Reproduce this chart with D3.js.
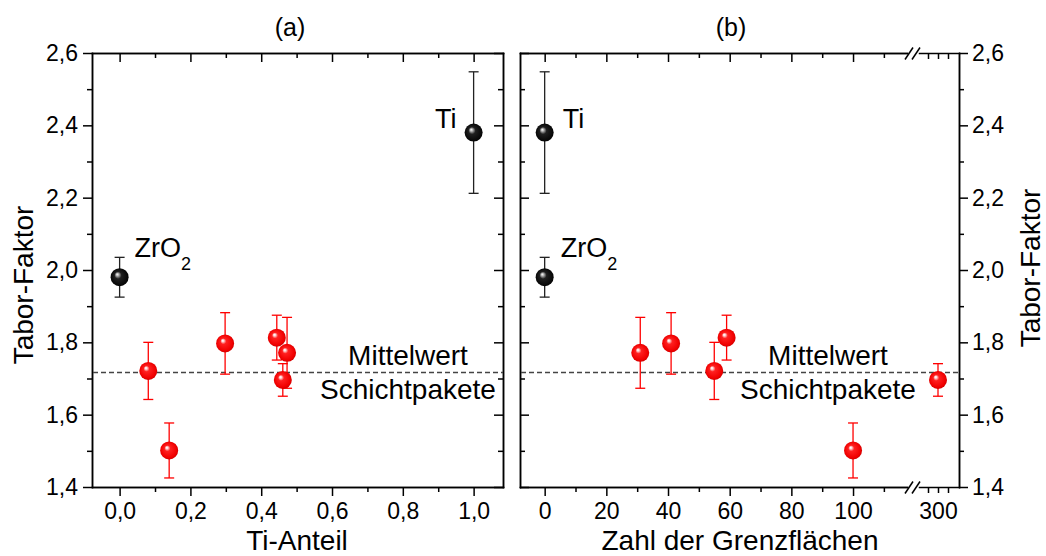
<!DOCTYPE html>
<html>
<head>
<meta charset="utf-8">
<script src="https://cdn.jsdelivr.net/npm/d3@7"></script>
<style>
  body { margin: 0; background: #fff; }
  svg text { font-family: "Liberation Sans", Arial, Helvetica, sans-serif; fill: #000; }
</style>
</head>
<body>
<svg id="chart" width="1046" height="556"></svg>
<script>
// reference films (black spheres)
var refNames = ['ZrO2', 'Ti']
var refTiFraction = [0.0, 1.0]
var refInterfaces = [0, 0]
var refTabor = [1.98, 2.38]
var refError = [0.055, 0.168]

// multilayer stacks (red spheres)
var layerTiFraction = [0.081, 0.140, 0.298, 0.444, 0.473, 0.461]
var layerInterfaces = [55, 100, 41, 59, 31, 300]
var layerTabor = [1.721, 1.501, 1.797, 1.813, 1.771, 1.696]
var layerError = [0.079, 0.076, 0.085, 0.062, 0.098, 0.045]

// ticks
var yTicks = [1.4, 1.6, 1.8, 2.0, 2.2, 2.4, 2.6]
var yMinor = [1.5, 1.7, 1.9, 2.1, 2.3, 2.5]
var xTicksA = [0.0, 0.2, 0.4, 0.6, 0.8, 1.0]
var xMinorA = [0.1, 0.3, 0.5, 0.7, 0.9]
var xTicksB = [0, 20, 40, 60, 80, 100]
var xMinorB = [10, 30, 50, 70, 90, 110]
var xTicksBreak = [290, 300, 310]
var xLabelsBreak = [300]

var svg = d3.select('#chart')
var comma = d3.formatLocale({decimal: ',', thousands: '.', grouping: [3], currency: ['', '']})
var fmt1 = comma.format('.1f')

var plotTop = 53, plotBottom = 487
var y = d3.scaleLinear().domain([1.4, 2.6]).range([plotBottom, plotTop])

var xA = d3.scaleLinear().domain([-0.078, 1.083]).range([92, 503])
// broken axis for panel b
var xB1 = d3.scaleLinear().domain([-8, 117.5]).range([520, 907])
var xB2 = d3.scaleLinear().domain([281, 321]).range([919, 959])
function xB(v) { return v > 200 ? xB2(v) : xB1(v) }

// gradients for the spheres
var defs = svg.append('defs')
function ball(id, stops) {
  var g = defs.append('radialGradient').attr('id', id)
    .attr('cx', '50%').attr('cy', '50%').attr('r', '55%')
    .attr('fx', '36%').attr('fy', '33%')
  stops.forEach(function (s) {
    g.append('stop').attr('offset', s[0]).attr('stop-color', s[1])
  })
}
ball('redBall', [['0%', '#ffffff'], ['10%', '#ffe0e0'], ['30%', '#ff2020'], ['80%', '#f00000'], ['100%', '#c00000']])
ball('blackBall', [['0%', '#ffffff'], ['12%', '#c0c0c0'], ['36%', '#202020'], ['100%', '#000000']])

function styleAxis(sel, size) {
  sel.attr('font-size', size)
  sel.selectAll('path, line').attr('stroke', '#000').attr('stroke-width', 1.5)
  sel.select('.domain').attr('stroke-linecap', 'square')
}

function addAxis(axis, tx, ty, size) {
  var g = svg.append('g').attr('transform', 'translate(' + tx + ',' + ty + ')').call(axis)
  styleAxis(g, size || 23)
  return g
}

// ---- panel (a) ----
addAxis(d3.axisBottom(xA).tickValues(xTicksA).tickSize(9).tickSizeOuter(0).tickPadding(7).tickFormat(fmt1), 0, plotBottom)
addAxis(d3.axisBottom(xA).tickValues(xMinorA).tickSize(5).tickSizeOuter(0).tickFormat(''), 0, plotBottom)
addAxis(d3.axisTop(xA).tickValues(xTicksA).tickSize(-9).tickSizeOuter(0).tickFormat(''), 0, plotTop)
addAxis(d3.axisTop(xA).tickValues(xMinorA).tickSize(-5).tickSizeOuter(0).tickFormat(''), 0, plotTop)
addAxis(d3.axisLeft(y).tickValues(yTicks).tickSize(9).tickSizeOuter(0).tickPadding(5).tickFormat(fmt1), 92, 0)
addAxis(d3.axisLeft(y).tickValues(yMinor).tickSize(5).tickSizeOuter(0).tickFormat(''), 92, 0)
addAxis(d3.axisRight(y).tickValues(yTicks).tickSize(-9).tickSizeOuter(0).tickFormat(''), 503, 0)
addAxis(d3.axisRight(y).tickValues(yMinor).tickSize(-5).tickSizeOuter(0).tickFormat(''), 503, 0)

// ---- panel (b) ----
addAxis(d3.axisBottom(xB1).tickValues(xTicksB).tickSize(9).tickSizeOuter(0).tickPadding(7).tickFormat(d3.format('d')), 0, plotBottom)
addAxis(d3.axisBottom(xB1).tickValues(xMinorB).tickSize(5).tickSizeOuter(0).tickFormat(''), 0, plotBottom)
addAxis(d3.axisBottom(xB2).tickValues(xTicksBreak).tickSize(6).tickSizeOuter(0).tickPadding(10)
  .tickFormat(function (d) { return xLabelsBreak.indexOf(d) >= 0 ? d : '' }), 0, plotBottom)
addAxis(d3.axisTop(xB1).tickValues(xTicksB).tickSize(-9).tickSizeOuter(0).tickFormat(''), 0, plotTop)
addAxis(d3.axisTop(xB1).tickValues(xMinorB).tickSize(-5).tickSizeOuter(0).tickFormat(''), 0, plotTop)
addAxis(d3.axisTop(xB2).tickValues(xTicksBreak).tickSize(-6).tickSizeOuter(0).tickFormat(''), 0, plotTop)
addAxis(d3.axisLeft(y).tickValues(yTicks).tickSize(-9).tickSizeOuter(0).tickFormat(''), 520, 0)
addAxis(d3.axisLeft(y).tickValues(yMinor).tickSize(-5).tickSizeOuter(0).tickFormat(''), 520, 0)
addAxis(d3.axisRight(y).tickValues(yTicks).tickSize(9).tickSizeOuter(0).tickPadding(4).tickFormat(fmt1), 959, 0)
addAxis(d3.axisRight(y).tickValues(yMinor).tickSize(5).tickSizeOuter(0).tickFormat(''), 959, 0)

// break marks "//"
var brk = (xB1.range()[1] + xB2.range()[0]) / 2
;[plotTop, plotBottom].forEach(function (yy) {
  [-4, 3].forEach(function (dx) {
    svg.append('line')
      .attr('x1', brk + dx - 4).attr('y1', yy + 0.5 + 6)
      .attr('x2', brk + dx + 4).attr('y2', yy + 0.5 - 6)
      .attr('stroke', '#000').attr('stroke-width', 1.5)
  })
})

// mean line of the multilayer stacks
var mean = d3.mean(layerTabor)
function meanLine(x0, x1) {
  svg.append('line')
    .attr('x1', x0).attr('x2', x1)
    .attr('y1', y(mean)).attr('y2', y(mean))
    .attr('stroke', '#444').attr('stroke-width', 1.4)
    .attr('stroke-dasharray', '5,3')
}
meanLine(93, 503)
meanLine(521, 959)

// points with error bars
function drawPoints(xs, ys, es, xscale, color, fill) {
  var g = svg.append('g')
  xs.forEach(function (xv, i) {
    var cx = xscale(xv)
    var y0 = y(ys[i] - es[i]), y1 = y(ys[i] + es[i])
    g.append('line').attr('x1', cx).attr('x2', cx).attr('y1', y0).attr('y2', y1)
      .attr('stroke', color).attr('stroke-width', 1.3)
    ;[y0, y1].forEach(function (yy) {
      g.append('line').attr('x1', cx - 5).attr('x2', cx + 5).attr('y1', yy).attr('y2', yy)
        .attr('stroke', color).attr('stroke-width', 1.3)
    })
  })
  xs.forEach(function (xv, i) {
    g.append('circle').attr('cx', xscale(xv)).attr('cy', y(ys[i])).attr('r', 9)
      .attr('fill', fill)
  })
}
drawPoints(layerTiFraction, layerTabor, layerError, xA, '#ff0000', 'url(#redBall)')
drawPoints(refTiFraction, refTabor, refError, xA, '#222', 'url(#blackBall)')
drawPoints(layerInterfaces, layerTabor, layerError, xB, '#ff0000', 'url(#redBall)')
drawPoints(refInterfaces, refTabor, refError, xB, '#222', 'url(#blackBall)')

// labels next to the reference points
function refLabel(name, px, py, dx, dy, anchor) {
  var t = svg.append('text').attr('x', px + dx).attr('y', py + dy)
    .attr('font-size', 27).attr('text-anchor', anchor)
  if (name === 'ZrO2') {
    t.append('tspan').text('ZrO')
    t.append('tspan').attr('font-size', 18).attr('dy', 13).text('2')
  } else {
    t.text(name)
  }
}
refLabel('Ti', xA(1.0), y(2.38), -17, -5, 'end')
refLabel('ZrO2', xA(0.0), y(1.98), 15, -20, 'start')
refLabel('Ti', xB(0), y(2.38), 18, -5, 'start')
refLabel('ZrO2', xB(0), y(1.98), 16, -20, 'start')

// mean line labels
function meanLabels(cx) {
  svg.append('text').attr('x', cx).attr('y', y(mean) - 8)
    .attr('text-anchor', 'middle').attr('font-size', 28).text('Mittelwert')
  svg.append('text').attr('x', cx).attr('y', y(mean) + 26)
    .attr('text-anchor', 'middle').attr('font-size', 28).text('Schichtpakete')
}
meanLabels(408)
meanLabels(828)

// panel titles
svg.append('text').attr('x', 290).attr('y', 36).attr('text-anchor', 'middle').attr('font-size', 25).text('(a)')
svg.append('text').attr('x', 731).attr('y', 36).attr('text-anchor', 'middle').attr('font-size', 25).text('(b)')

// axis titles
svg.append('text').attr('x', 297).attr('y', 550).attr('text-anchor', 'middle').attr('font-size', 28).text('Ti-Anteil')
svg.append('text').attr('x', 740).attr('y', 550).attr('text-anchor', 'middle').attr('font-size', 28).text('Zahl der Grenzflächen')
svg.append('text').attr('transform', 'translate(33,285) rotate(-90)')
  .attr('text-anchor', 'middle').attr('font-size', 28).text('Tabor-Faktor')
svg.append('text').attr('transform', 'translate(1040,268) rotate(-90)')
  .attr('text-anchor', 'middle').attr('font-size', 28).text('Tabor-Faktor')
</script>
</body>
</html>
